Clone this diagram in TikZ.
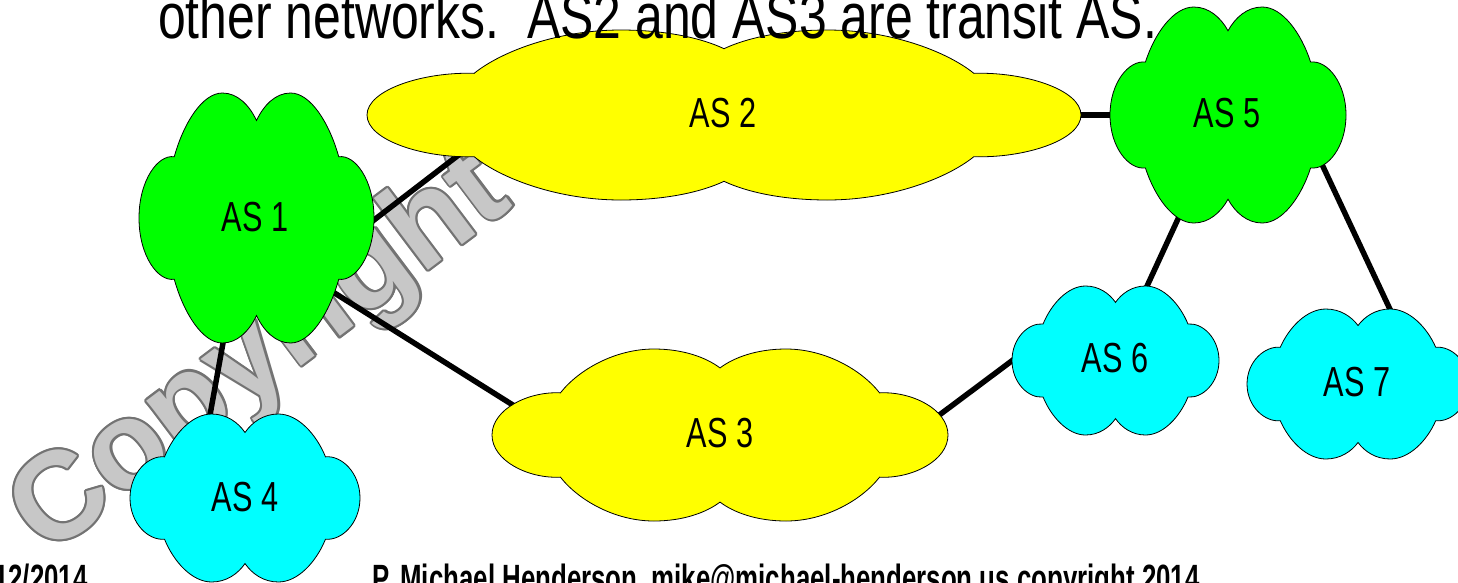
\documentclass[tikz,border=0pt]{standalone}
\usepackage{fontspec}
\setmainfont{Liberation Sans}
\newfontfamily\labelfont{Liberation Sans}[FakeStretch=0.73]
\newfontfamily\titlefont{Liberation Sans}[FakeStretch=0.78]
\newfontfamily\footfont{Liberation Sans}[FakeStretch=0.68]
\newfontfamily\wmfont{Liberation Sans}
\definecolor{asgreen}{HTML}{00FF00}
\definecolor{asyellow}{HTML}{FFFF00}
\definecolor{ascyan}{HTML}{00FFFF}
\tikzset{
  cloud/.pic={
    \path[pic actions] (-0.70,0.49) .. controls (-0.62,0.76) and (-0.46,1.0) .. (-0.29,1.0)
      .. controls (-0.16,1.0) and (-0.06,0.90) .. (0,0.78)
      .. controls (0.06,0.90) and (0.16,1.0) .. (0.29,1.0)
      .. controls (0.46,1.0) and (0.62,0.76) .. (0.70,0.49)
      .. controls (0.84,0.51) and (1.0,0.30) .. (1.0,0)
      .. controls (1.0,-0.30) and (0.84,-0.51) .. (0.70,-0.49)
      .. controls (0.62,-0.76) and (0.46,-1.0) .. (0.29,-1.0)
      .. controls (0.16,-1.0) and (0.06,-0.90) .. (0,-0.78)
      .. controls (-0.06,-0.90) and (-0.16,-1.0) .. (-0.29,-1.0)
      .. controls (-0.46,-1.0) and (-0.62,-0.76) .. (-0.70,-0.49)
      .. controls (-0.84,-0.51) and (-1.0,-0.30) .. (-1.0,0)
      .. controls (-1.0,0.30) and (-0.84,0.51) .. (-0.70,0.49) -- cycle;
  },
  cloudstyle/.style={draw=black, line width=0.8pt},
  lbl/.style={font=\labelfont\fontsize{42}{42}\selectfont, inner sep=0pt},
  link/.style={line width=5.5pt, black},
  wm/.style={rotate=37, font=\wmfont\bfseries\fontsize{124}{124}\selectfont, inner sep=0pt},
  foot/.style={anchor=base west, inner sep=0pt, font=\footfont\bfseries\fontsize{38}{38}\selectfont},
}
\begin{document}
\begin{tikzpicture}[x=1pt,y=-1pt]
\useasboundingbox (0,0) rectangle (1458,582);
\clip (0,0) rectangle (1458,582);
\fill[white] (0,0) rectangle (1458,582);
% watermark: outlined grey letters
\foreach \a in {0,30,...,330}{
  \node[wm, text=black!55, shift={(\a:2.2)}] (wmo\a) at (262,356) {Copyright};
}
\node[wm, text=black!22] (wm) at (262,356) {Copyright};
% connector end points
\coordinate (c12a) at (364.5,227.3);
\coordinate (c12b) at (465.5,149.7);
\coordinate (c13a) at (325,287);
\coordinate (c13b) at (516.5,407.3);
\coordinate (c14a) at (224.8,333);
\coordinate (c14b) at (208.2,425);
\coordinate (c25a) at (1070,115);
\coordinate (c25b) at (1120,115);
\coordinate (c56a) at (1183,208);
\coordinate (c56b) at (1142,297);
\coordinate (c57a) at (1319,158);
\coordinate (c57b) at (1395,320);
\coordinate (c36a) at (934,419);
\coordinate (c36b) at (1021,354);
\draw[link] (c12a) -- (c12b);
\draw[link] (c13a) -- (c13b);
\draw[link] (c14a) -- (c14b);
\draw[link] (c25a) -- (c25b);
\draw[link] (c56a) -- (c56b);
\draw[link] (c57a) -- (c57b);
\draw[link] (c36a) -- (c36b);
% clouds
\pic[cloudstyle, fill=asgreen, xscale=117.5, yscale=125] (k1) at (256.5,218) {cloud};
\pic[cloudstyle, fill=asyellow, xscale=357, yscale=85] (k2) at (724,115) {cloud};
\pic[cloudstyle, fill=asyellow, xscale=228, yscale=86] (k3) at (720,435) {cloud};
\pic[cloudstyle, fill=ascyan, xscale=115, yscale=84] (k4) at (245,498) {cloud};
\pic[cloudstyle, fill=asgreen, xscale=118, yscale=108] (k5) at (1228,115) {cloud};
\pic[cloudstyle, fill=ascyan, xscale=103.5, yscale=74.5] (k6) at (1115.5,360.5) {cloud};
\pic[cloudstyle, fill=ascyan, xscale=111, yscale=75] (k7) at (1358,384) {cloud};
% labels
\node[lbl] (as1) at (255,217) {AS 1};
\node[lbl] (as2) at (723,113) {AS 2};
\node[lbl] (as3) at (720,433) {AS 3};
\node[lbl] (as4) at (245,497) {AS 4};
\node[lbl] (as5) at (1227,113) {AS 5};
\node[lbl] (as6) at (1115,358) {AS 6};
\node[lbl] (as7) at (1357,382) {AS 7};
% title text
\node[anchor=base west, inner sep=0pt, font=\titlefont\fontsize{64}{64}\selectfont] (title) at (158,38) {\frenchspacing other networks.\ \ AS2 and AS3 are transit AS.};
% footer
\node[foot] (date) at (-6,591) {12/2014};
\node[foot] (author) at (372,591) {P. Michael Henderson, mike@michael-henderson.us copyright 2014};
\end{tikzpicture}
\end{document}
